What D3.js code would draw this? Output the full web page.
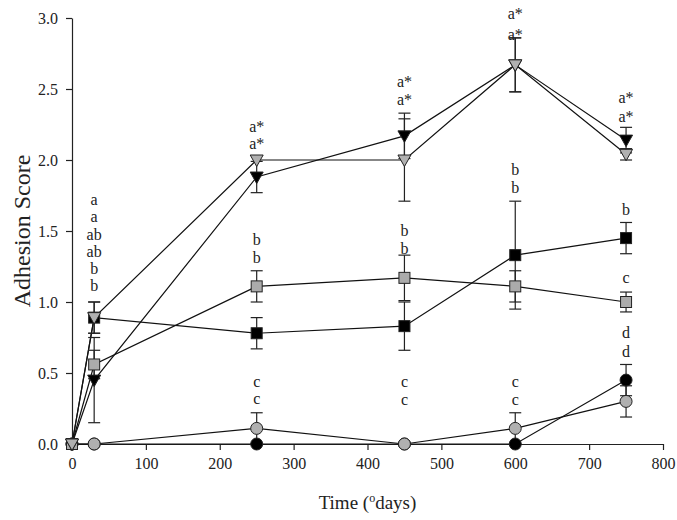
<!DOCTYPE html>
<html><head><meta charset="utf-8">
<script src="https://cdn.jsdelivr.net/npm/d3@7"></script>
<style>body{margin:0;background:#fff}svg{display:block}</style>
</head><body>
<script>
// ---- data ----
const days = [0, 30, 250, 450, 600, 750];
const blackTri   = [0, 0.45, 1.88, 2.17, 2.67, 2.14];
const blackTriE  = [0, 0.30, 0.11, 0.16, 0.19, 0.09];
const grayTri    = [0, 0.89, 2.00, 2.00, 2.67, 2.04];
const grayTriE   = [0, 0.11, 0, 0.29, 0.19, 0.04];
const blackSq    = [0, 0.89, 0.78, 0.83, 1.33, 1.45];
const blackSqE   = [0, 0.11, 0.11, 0.17, 0.38, 0.11];
const graySq     = [0, 0.56, 1.11, 1.17, 1.11, 1.00];
const graySqE    = [0, 0.10, 0.11, 0.16, 0.11, 0.07];
const blackCirc  = [0, 0, 0, 0, 0, 0.45];
const blackCircE = [0, 0, 0, 0, 0, 0.11];
const grayCirc   = [0, 0, 0.11, 0, 0.11, 0.30];
const grayCircE  = [0, 0, 0.11, 0, 0.11, 0.11];
const xTicks = [0, 100, 200, 300, 400, 500, 600, 700, 800];
const yTicks = [0, 0.5, 1.0, 1.5, 2.0, 2.5, 3.0];
const annX    = [30,30,30,30,30,30, 250,250,250,250,250,250, 450,450,450,450,450,450, 600,600,600,600,600,600, 750,750,750,750,750,750];
const annY    = [1.11,1.23,1.35,1.475,1.60,1.72, 2.11,2.23,1.31,1.44,0.32,0.44, 2.42,2.55,1.37,1.50,0.31,0.44, 2.88,3.03,1.80,1.93,0.31,0.44, 2.30,2.44,1.65,1.17,0.65,0.78];
const annText = ["b","b","ab","ab","a","a", "a*","a*","b","b","c","c", "a*","a*","b","b","c","c", "a*","a*","b","b","c","c", "a*","a*","b","c","d","d"];

const series = [
  {v: blackCirc, e: blackCircE, shape: "circle", fill: "#000"},
  {v: grayCirc,  e: grayCircE,  shape: "circle", fill: "#b0b0b0"},
  {v: blackSq,   e: blackSqE,   shape: "square", fill: "#000"},
  {v: graySq,    e: graySqE,    shape: "square", fill: "#ababab"},
  {v: blackTri,  e: blackTriE,  shape: "tri",    fill: "#000"},
  {v: grayTri,   e: grayTriE,   shape: "tri",    fill: "#b0b0b0"}
];

const W = 677, H = 520;
const svg = d3.select("body").append("svg").attr("width", W).attr("height", H)
  .style("font-family", "'Liberation Serif','Times New Roman',serif");

const x = d3.scaleLinear().domain([0, 800]).range([72, 663]);
const y = d3.scaleLinear().domain([0, 3]).range([444, 18]);

// axes
const xAxis = svg.append("g").attr("transform", `translate(0,${y(0)})`)
  .call(d3.axisBottom(x).tickValues(xTicks).tickFormat(d3.format("d")).tickSize(6).tickPadding(8).tickSizeOuter(0));
const yAxis = svg.append("g").attr("transform", `translate(${x(0)},0)`)
  .call(d3.axisLeft(y).tickValues(yTicks).tickFormat(d3.format(".1f")).tickSize(6).tickPadding(8).tickSizeOuter(0));
[xAxis, yAxis].forEach(a => {
  a.selectAll("text").style("font-family", "'Liberation Serif',serif").style("font-size", "16px").attr("fill", "#222");
  a.selectAll("path,line").attr("stroke", "#222").attr("stroke-width", 1.2);
});

// lines and error bars
const line = d3.line().x((d, i) => x(days[i])).y(d => y(d));
const g = svg.append("g");
series.forEach(s => {
  g.append("path").attr("d", line(s.v)).attr("fill", "none").attr("stroke", "#111").attr("stroke-width", 1.2);
});
series.forEach(s => {
  s.v.forEach((v, i) => {
    const e = s.e[i];
    if (!e) return;
    const cx = x(days[i]);
    g.append("line").attr("x1", cx).attr("x2", cx).attr("y1", y(v - e)).attr("y2", y(v + e)).attr("stroke", "#222").attr("stroke-width", 1.2);
    [v - e, v + e].forEach(t => g.append("line").attr("x1", cx - 6).attr("x2", cx + 6).attr("y1", y(t)).attr("y2", y(t)).attr("stroke", "#222").attr("stroke-width", 1.2));
  });
});

// markers
series.forEach(s => {
  s.v.forEach((v, i) => {
    const cx = x(days[i]), cy = y(v);
    let m;
    if (s.shape === "circle") m = g.append("circle").attr("cx", cx).attr("cy", cy).attr("r", 6);
    else if (s.shape === "square") m = g.append("rect").attr("x", cx - 5.5).attr("y", cy - 5.5).attr("width", 11).attr("height", 11);
    else m = g.append("path").attr("d", `M${cx - 6.5},${cy - 5}L${cx + 6.5},${cy - 5}L${cx},${cy + 6.5}Z`);
    m.attr("fill", s.fill).attr("stroke", "#222").attr("stroke-width", 1);
  });
});

// annotations
svg.append("g").selectAll("text").data(annText).join("text")
  .attr("x", (d, i) => x(annX[i]))
  .attr("y", (d, i) => y(annY[i]) + 5)
  .attr("text-anchor", "middle")
  .style("font-size", "16px").attr("fill", "#222")
  .text(d => d);

// axis titles
const xt = svg.append("text").attr("x", (x(0) + x(800)) / 2).attr("y", 509)
  .attr("text-anchor", "middle").style("font-size", "19px").attr("fill", "#222");
xt.append("tspan").text("Time (");
xt.append("tspan").attr("dy", -7).style("font-size", "12px").text("o");
xt.append("tspan").attr("dy", 7).text("days)");

svg.append("text").attr("transform", `translate(30,${(y(0) + y(3)) / 2}) rotate(-90)`)
  .attr("text-anchor", "middle").style("font-size", "24px").attr("fill", "#222")
  .text("Adhesion Score");
</script>
</body></html>
